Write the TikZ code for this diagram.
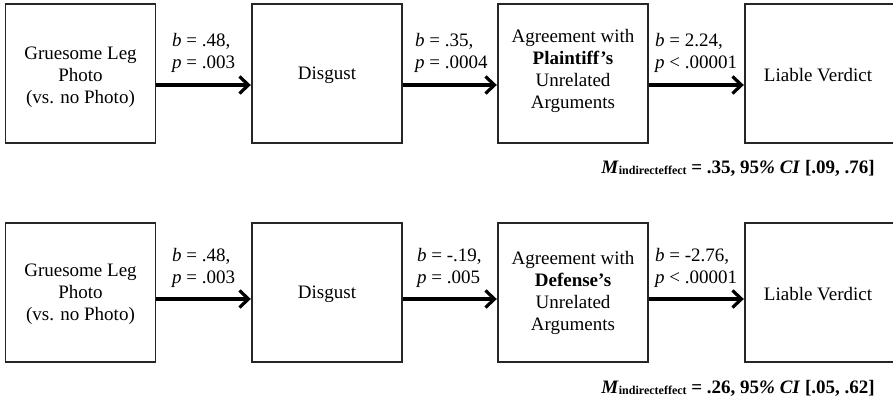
\documentclass[tikz,border=0pt]{standalone}
\usepackage{fontspec}
\setmainfont{Liberation Serif}
\usetikzlibrary{arrows.meta,calc}
\tikzset{
  box/.style={draw=black!85, line width=1.4pt, minimum width=150pt, minimum height=139pt, inner sep=0pt, align=center, font=\fontsize{19}{22}\selectfont},
  conn/.style={line width=3.6pt, -{Straight Barb[length=9pt,width=17pt,line width=3.2pt]}, shorten >=0.5pt},
  lab/.style={anchor=west, inner sep=0pt, align=left, font=\fontsize{19}{21.5}\selectfont},
  med/.style={anchor=east, inner sep=0pt, font=\fontsize{19}{22}\selectfont\bfseries}
}
\newcommand{\mind}{\textit{M}\raisebox{-1.5pt}{\fontsize{12}{12}\selectfont indirecteffect}}
\begin{document}
\begin{tikzpicture}[x=1pt,y=-1pt]
\useasboundingbox (0,0) rectangle (893,401);
\clip (0,0) rectangle (893,401);
% top row
\node[box] (a1) at (80.5,73.5) {};
\node[box] (a2) at (327,73.5) {};
\node[box] (a3) at (573,73.5) {};
\node[box] (a4) at (820,73.5) {};
\node[box,draw=none] (ta1) at (80.5,77) {Gruesome Leg\\Photo\\(vs. no Photo)};
\node[box,draw=none] (ta2) at (327,75) {Disgust};
\node[box,draw=none] (ta3) at (573,71) {Agreement with\\\textbf{Plaintiff's}\\Unrelated\\Arguments};
\node[box,draw=none] (ta4) at (818,75) {Liable Verdict};
\coordinate (ya) at (0,85);
\draw[conn] (a1.east |- ya) -- (a2.west |- ya);
\draw[conn] (a2.east |- ya) -- (a3.west |- ya);
\draw[conn] (a3.east |- ya) -- (a4.west |- ya);
\node[lab] (la1) at (172,53) {\textit{b} = .48,\\\textit{p} = .003};
\node[lab] (la2) at (415,53) {\textit{b} = .35,\\\textit{p} = .0004};
\node[lab] (la3) at (655,53) {\textit{b} = 2.24,\\\textit{p} {<} .00001};
\node[med] (ma) at (875,168) {\mind{} = .35, 95\textit{\%} \textit{CI} [.09, .76]};
% bottom row
\node[box] (b1) at (80.5,292.5) {};
\node[box] (b2) at (327,292.5) {};
\node[box] (b3) at (573,292.5) {};
\node[box] (b4) at (820,292.5) {};
\node[box,draw=none] (tb1) at (80.5,294) {Gruesome Leg\\Photo\\(vs. no Photo)};
\node[box,draw=none] (tb2) at (327,294) {Disgust};
\node[box,draw=none] (tb3) at (573,293) {Agreement with\\\textbf{Defense's}\\Unrelated\\Arguments};
\node[box,draw=none] (tb4) at (818,294) {Liable Verdict};
\coordinate (yb) at (0,299);
\draw[conn] (b1.east |- yb) -- (b2.west |- yb);
\draw[conn] (b2.east |- yb) -- (b3.west |- yb);
\draw[conn] (b3.east |- yb) -- (b4.west |- yb);
\node[lab] (lb1) at (172,268) {\textit{b} = .48,\\\textit{p} = .003};
\node[lab] (lb2) at (417,268) {\textit{b} = -.19,\\\textit{p} = .005};
\node[lab] (lb3) at (655,268) {\textit{b} = -2.76,\\\textit{p} {<} .00001};
\node[med] (mb) at (875,388) {\mind{} = .26, 95\textit{\%} \textit{CI} [.05, .62]};
\end{tikzpicture}
\end{document}
